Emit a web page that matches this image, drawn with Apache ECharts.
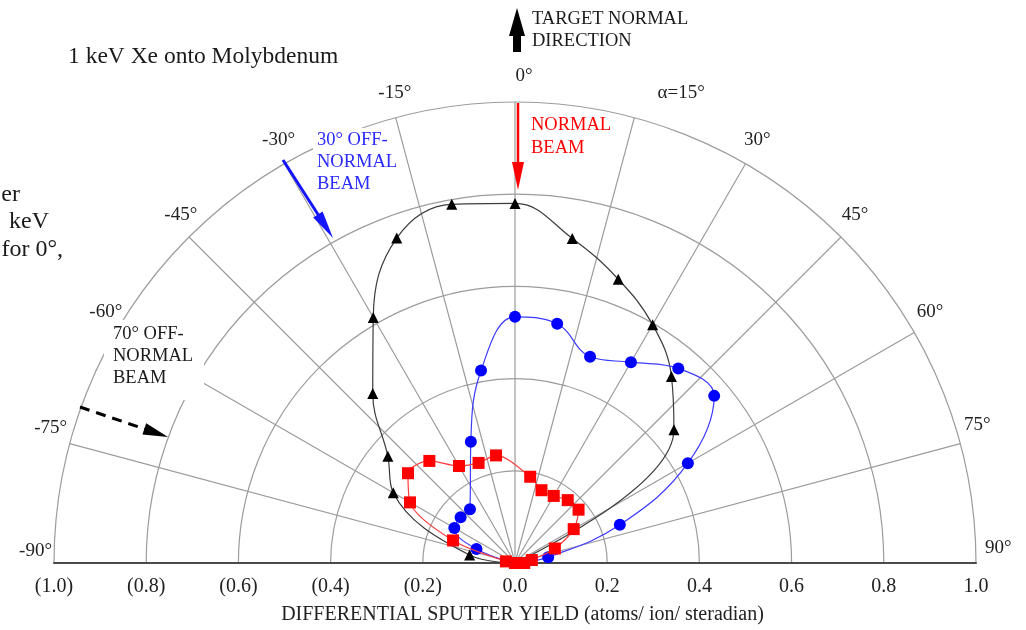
<!DOCTYPE html>
<html>
<head>
<meta charset="utf-8">
<script src="https://cdn.jsdelivr.net/npm/echarts@6/dist/echarts.min.js"></script>
<style>
html,body{margin:0;padding:0;background:#fff;}
#chart{width:1026px;height:630px;}
</style>
</head>
<body>
<div id="chart"></div>
<script>
// ---- data (angle in degrees from target normal, yield in atoms/ion/sr) ----
const blackAngle = [-90, -80, -60, -50, -40, -30, -20, -10, 0, 10, 20, 30, 40, 50, 90];
const blackYield = [0, 0.10, 0.305, 0.36, 0.48, 0.615, 0.75, 0.79, 0.78, 0.715, 0.655, 0.597, 0.528, 0.45, 0];

const blueAngle = [-90, -70, -60, -50, -40, -20, -10, 0, 10, 20, 30, 40, 50, 60, 70, 80, 90];
const blueYield = [0, 0.089, 0.152, 0.154, 0.152, 0.28, 0.424, 0.534, 0.527, 0.476, 0.503, 0.551, 0.564, 0.433, 0.242, 0.073, 0];

const redAngle = [-90, -80, -70, -60, -50, -40, -30, -20, -10, 10, 20, 30, 40, 50, 60, 70, 80, 90];
const redYield = [0, 0.02, 0.143, 0.263, 0.303, 0.289, 0.243, 0.231, 0.237, 0.19, 0.168, 0.168, 0.178, 0.18, 0.147, 0.092, 0.037, 0.02];

const angleTicks = [-90, -75, -60, -45, -30, -15, 0, 15, 30, 45, 60, 75, 90];
const angleTickLabels = ['-90°', '-75°', '-60°', '-45°', '-30°', '-15°', '0°', 'α=15°', '30°', '45°', '60°', '75°', '90°'];
const yieldTicks = [-1.0, -0.8, -0.6, -0.4, -0.2, 0.0, 0.2, 0.4, 0.6, 0.8, 1.0];
const yieldTickLabels = ['(1.0)', '(0.8)', '(0.6)', '(0.4)', '(0.2)', '0.0', '0.2', '0.4', '0.6', '0.8', '1.0'];

const FONT = '"Liberation Serif", "Times New Roman", serif';
const GRID = '#9c9c9c';
const LBL = '#222';

function polarData(angles, yields, hideZero) {
  return angles.map(function (a, i) {
    const item = { value: [yields[i], a] };
    if (hideZero && yields[i] === 0) item.symbol = 'none';
    return item;
  });
}
function nearestIndex(ticks, v) {
  let best = 0;
  for (let i = 1; i < ticks.length; i++) {
    if (Math.abs(ticks[i] - v) < Math.abs(ticks[best] - v)) best = i;
  }
  return best;
}

// per-label nudges (rich text padding) to follow the original label placement
const labelNudge = {
  '-90': [0, 7, 14, 0], '-75': [0, 8, 16, 0], '-15': [0, 28, 0, 0],
  '0': [0, 0, 0, 32], '15': [0, 0, 0, 102], '75': [0, 0, 22, 0], '90': [0, 0, 20, 5]
};
const richStyles = {};
Object.keys(labelNudge).forEach(function (k) {
  richStyles['t' + k.replace('-', 'm')] = { fontSize: 19, fontFamily: FONT, color: LBL, padding: labelNudge[k] };
});
function angleLabelFormatter(side) {
  return function (v) {
    const i = nearestIndex(angleTicks, v);
    const a = angleTicks[i];
    if (side === 'left' && a >= 0) return '';
    if (side === 'right' && a < 0) return '';
    const txt = angleTickLabels[i];
    const key = String(a);
    if (labelNudge[key]) return '{t' + key.replace('-', 'm') + '|' + txt + '}';
    return txt;
  };
}
function labelAngleAxis(idx, side) {
  return {
    polarIndex: idx, type: 'value', startAngle: 180, endAngle: 0, clockwise: true,
    min: -90, max: 90, interval: 15,
    axisLine: { show: false }, axisTick: { show: false }, splitLine: { show: false },
    axisLabel: {
      show: true, margin: 11, fontSize: 19, fontFamily: FONT, color: LBL,
      formatter: angleLabelFormatter(side), rich: richStyles
    }
  };
}

const chart = echarts.init(document.getElementById('chart'), null, { renderer: 'canvas' });

const CX = 515, CY = 563, R = 461;

const option = {
  animation: false,
  backgroundColor: '#ffffff',
  polar: [
    { center: [CX, CY], radius: R },
    { center: [CX + 16, CY - 5], radius: R },
    { center: [CX - 7, CY - 5], radius: R }
  ],
  angleAxis: [
    {
      polarIndex: 0, type: 'value', startAngle: 180, endAngle: 0, clockwise: true,
      min: -90, max: 90, interval: 15,
      axisLine: { show: false }, axisTick: { show: false }, axisLabel: { show: false },
      splitLine: { show: true, lineStyle: { color: GRID, width: 1.2 } }
    },
    labelAngleAxis(1, 'left'),
    labelAngleAxis(2, 'right')
  ],
  radiusAxis: [
    {
      polarIndex: 0, type: 'value', min: 0, max: 1, interval: 0.2,
      axisLine: { show: false }, axisTick: { show: false }, axisLabel: { show: false },
      splitLine: { show: true, lineStyle: { color: GRID, width: 1.2 } }
    },
    { polarIndex: 1, type: 'value', min: 0, max: 1, show: false },
    { polarIndex: 2, type: 'value', min: 0, max: 1, show: false }
  ],
  grid: { left: CX - R, right: 1026 - (CX + R), bottom: 630 - CY, top: 100, containLabel: false },
  xAxis: {
    type: 'value', min: -1, max: 1, interval: 0.2,
    axisLine: { show: true, onZero: false, lineStyle: { color: '#4a4a4a', width: 2 } },
    axisTick: { show: false }, splitLine: { show: false },
    axisLabel: {
      margin: 14, fontSize: 20, fontFamily: FONT, color: LBL,
      formatter: function (v) { return yieldTickLabels[nearestIndex(yieldTicks, v)]; }
    },
    name: 'DIFFERENTIAL SPUTTER YIELD (atoms/ ion/ steradian)',
    nameLocation: 'middle', nameGap: 42,
    nameTextStyle: { fontSize: 20, fontFamily: FONT, color: LBL, padding: [0, 0, 0, 15] }
  },
  yAxis: { type: 'value', min: 0, max: 1, show: false },
  series: [
    {
      name: 'black', type: 'line', coordinateSystem: 'polar', polarIndex: 0,
      data: polarData(blackAngle, blackYield, true), smooth: 0.4,
      symbol: 'triangle', symbolSize: 11,
      itemStyle: { color: '#000' }, lineStyle: { color: '#3c3c3c', width: 1.2 }, z: 3
    },
    {
      name: 'blue', type: 'line', coordinateSystem: 'polar', polarIndex: 0,
      data: polarData(blueAngle, blueYield, true), smooth: 0.4,
      symbol: 'circle', symbolSize: 12,
      itemStyle: { color: '#0000ff' }, lineStyle: { color: '#3b3bff', width: 1.2 }, z: 4
    },
    {
      name: 'red', type: 'line', coordinateSystem: 'polar', polarIndex: 0,
      data: polarData(redAngle, redYield, false), smooth: 0.3,
      symbol: 'rect', symbolSize: 12,
      itemStyle: { color: '#ff0000' }, lineStyle: { color: '#ff3b3b', width: 1.2 }, z: 5
    }
  ],
  graphic: [
    // white masks behind annotation text
    { type: 'rect', z: 50, shape: { x: 104, y: 320, width: 100, height: 80 }, style: { fill: '#fff' } },
    { type: 'rect', z: 50, shape: { x: 313, y: 128, width: 84, height: 68 }, style: { fill: '#fff' } },
    // title and fragments
    { type: 'text', z: 60, x: 68, y: 57, style: { text: '1 keV Xe onto Molybdenum', font: '23.5px ' + FONT, fill: '#1a1a1a', align: 'left', verticalAlign: 'middle' } },
    { type: 'text', z: 60, x: 20, y: 195, style: { text: 'er', font: '24px ' + FONT, fill: '#1a1a1a', align: 'right', verticalAlign: 'middle' } },
    { type: 'text', z: 60, x: 49, y: 222, style: { text: 'keV', font: '24px ' + FONT, fill: '#1a1a1a', align: 'right', verticalAlign: 'middle' } },
    { type: 'text', z: 60, x: 63, y: 250, style: { text: 'for 0°,', font: '24px ' + FONT, fill: '#1a1a1a', align: 'right', verticalAlign: 'middle' } },
    // target normal direction
    { type: 'polygon', z: 60, shape: { points: [[517, 8], [525, 36], [521, 36], [521, 52], [513, 52], [513, 36], [509, 36]] }, style: { fill: '#000' } },
    { type: 'text', z: 60, x: 532, y: 8.5, style: { text: 'TARGET NORMAL\nDIRECTION', font: '18.5px ' + FONT, fill: '#1a1a1a', align: 'left', verticalAlign: 'top', lineHeight: 22 } },
    // normal beam (red)
    { type: 'line', z: 60, shape: { x1: 518, y1: 103, x2: 518, y2: 168 }, style: { stroke: '#ff0000', lineWidth: 2.5 } },
    { type: 'polygon', z: 60, shape: { points: [[512, 162], [524, 162], [518, 190]] }, style: { fill: '#ff0000' } },
    { type: 'text', z: 60, x: 531, y: 114, style: { text: 'NORMAL\nBEAM', font: '18.5px ' + FONT, fill: '#ff0000', align: 'left', verticalAlign: 'top', lineHeight: 23 } },
    // 30 deg off-normal (blue)
    { type: 'line', z: 60, shape: { x1: 283, y1: 160, x2: 319, y2: 216 }, style: { stroke: '#1414ff', lineWidth: 3 } },
    { type: 'polygon', z: 60, shape: { points: [[333, 238], [313.2, 217.4], [322.6, 211.4]] }, style: { fill: '#1414ff' } },
    { type: 'text', z: 60, x: 317, y: 129.5, style: { text: '30° OFF-\nNORMAL\nBEAM', font: '18.5px ' + FONT, fill: '#2a2aff', align: 'left', verticalAlign: 'top', lineHeight: 22 } },
    // 70 deg off-normal (dashed black)
    { type: 'line', z: 60, shape: { x1: 80, y1: 407, x2: 146, y2: 429.5 }, style: { stroke: '#000', lineWidth: 3, lineDash: [10, 7] } },
    { type: 'polygon', z: 60, shape: { points: [[168, 437], [146.2, 423.2], [142.4, 434.6]] }, style: { fill: '#000' } },
    { type: 'text', z: 60, x: 113, y: 323.5, style: { text: '70° OFF-\nNORMAL\nBEAM', font: '18.5px ' + FONT, fill: '#1a1a1a', align: 'left', verticalAlign: 'top', lineHeight: 22 } }
  ]
};
chart.setOption(option);
</script>
</body>
</html>
